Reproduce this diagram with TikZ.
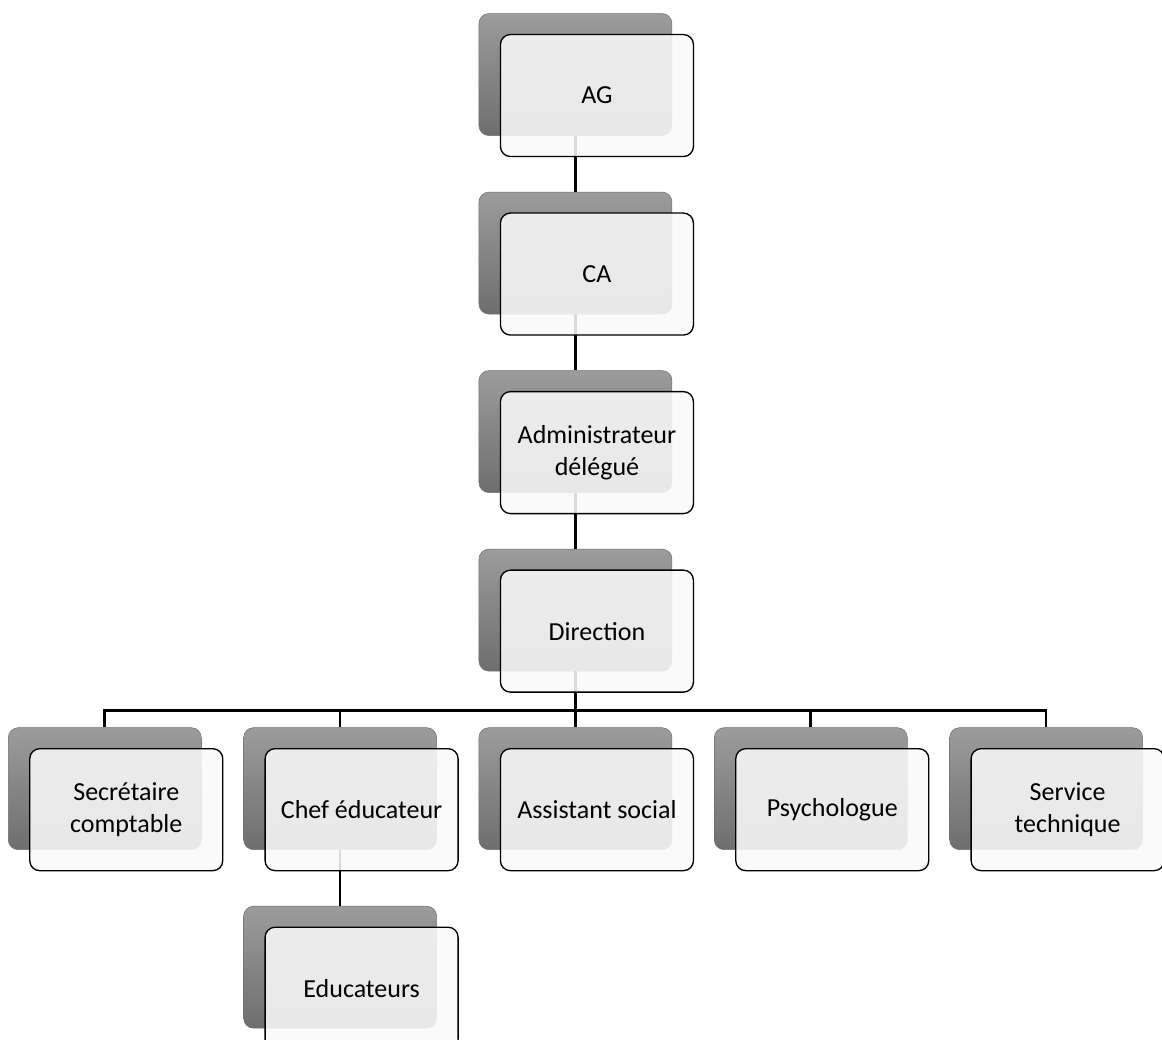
\documentclass[tikz,border=0pt]{standalone}
\usepackage{fontspec}
\setmainfont{Carlito}
\usepackage{tikz}
\usetikzlibrary{positioning}
\usetikzlibrary{calc}
\definecolor{backtop}{RGB}{156,156,156}
\definecolor{backbottom}{RGB}{110,110,110}
\definecolor{frontfill}{RGB}{249,249,249}

\begin{document}
\begin{tikzpicture}[node distance=42pt and 31.35pt,font=\fontsize{19.5}{24}\selectfont]
  \tikzstyle{back}=[rectangle,rounded corners=7.5pt,minimum width=144.75pt,minimum height=91.5pt,top color=backtop,bottom color=backbottom,draw=backbottom,line width=0.4pt]
  \tikzstyle{front}=[rectangle,rounded corners=7.5pt,minimum width=144.75pt,minimum height=91.5pt,xshift=16.1pt,yshift=-15.75pt,fill=frontfill,fill opacity=0.88,text opacity=1,draw=black,line width=1pt,align=center,inner sep=2pt]
  \tikzstyle{link}=[line width=2pt]

  \useasboundingbox (0,0) rectangle (871.5pt,-779.25pt);

  \node[back] (AGb) at (431.6pt,-55.9pt) {};
  \node[back] (CAb) [below=of AGb] {};
  \node[back] (ADb) [below=of CAb] {};
  \node[back] (DIb) [below=of ADb] {};
  \node[back] (ASb) [below=of DIb] {};
  \node[back] (CEb) [left=of ASb]  {};
  \node[back] (SCb) [left=of CEb]  {};
  \node[back] (PSb) [right=of ASb] {};
  \node[back] (STb) [right=of PSb] {};
  \node[back] (EDb) [below=of CEb] {};

  \draw[link] (AGb.south) -- (CAb.north);
  \draw[link] (CAb.south) -- (ADb.north);
  \draw[link] (ADb.south) -- (DIb.north);
  \draw[link] (CEb.south) -- (EDb.north);
  \coordinate (bus) at ($(DIb.south)!0.7!(ASb.north)$);
  \foreach \n in {SCb,CEb,ASb,PSb,STb}
    \draw[link] (DIb.south) |- (bus -| \n.north) -- (\n.north);

  \node[front] (AG) at (AGb) {AG};
  \node[front] (CA) at (CAb) {CA};
  \node[front] (AD) at (ADb) {Administrateur\\ délégué};
  \node[front] (DI) at (DIb) {Direction};
  \node[front] (SC) at (SCb) {Secrétaire\\ comptable};
  \node[front] (CE) at (CEb) {Chef éducateur};
  \node[front] (AS) at (ASb) {Assistant social};
  \node[front] (PS) at (PSb) {Psychologue};
  \node[front] (ST) at (STb) {Service\\ technique};
  \node[front] (ED) at (EDb) {Educateurs};
\end{tikzpicture}
\end{document}
